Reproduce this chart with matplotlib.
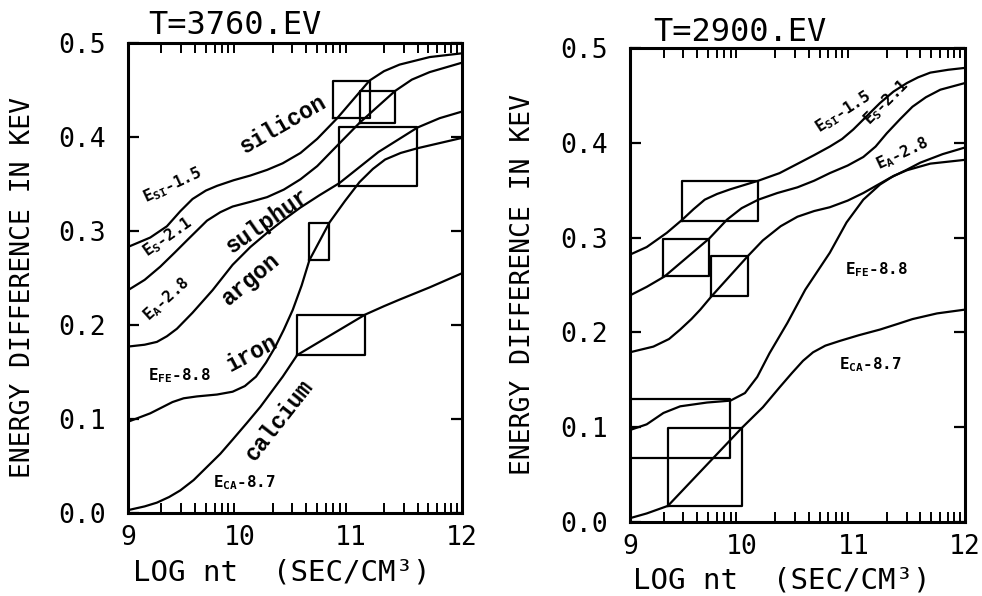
import matplotlib
matplotlib.use('Agg')
import matplotlib.pyplot as plt
import numpy as np

plt.rcParams['font.family'] = ['DejaVu Sans Mono']
plt.rcParams['mathtext.default'] = 'regular'

# ---- left panel, T=3760 eV ----
L_si_x = [9.00, 9.20, 9.35, 9.47, 9.58, 9.70, 9.80, 9.95, 10.10, 10.25, 10.39, 10.55, 10.70, 10.88, 11.17, 11.30, 11.44, 11.71, 12.0]
L_si_y = [0.283, 0.293, 0.305, 0.321, 0.334, 0.343, 0.348, 0.354, 0.359, 0.365, 0.372, 0.383, 0.398, 0.420, 0.460, 0.470, 0.477, 0.485, 0.489]
L_s_x = [9.00, 9.15, 9.29, 9.42, 9.53, 9.71, 9.83, 9.94, 10.10, 10.25, 10.40, 10.55, 10.70, 10.84, 11.08, 11.40, 11.55, 11.71, 12.0]
L_s_y = [0.237, 0.248, 0.262, 0.277, 0.290, 0.311, 0.320, 0.326, 0.331, 0.336, 0.344, 0.355, 0.369, 0.386, 0.415, 0.449, 0.461, 0.469, 0.479]
L_a_x = [9.00, 9.15, 9.26, 9.35, 9.44, 9.58, 9.76, 9.94, 10.10, 10.25, 10.40, 10.55, 10.72, 10.90, 11.25, 11.60, 11.80, 12.0]
L_a_y = [0.177, 0.179, 0.182, 0.188, 0.196, 0.213, 0.237, 0.264, 0.283, 0.298, 0.312, 0.325, 0.338, 0.351, 0.384, 0.410, 0.420, 0.427]
L_fe_x = [9.00, 9.20, 9.30, 9.40, 9.50, 9.62, 9.80, 9.94, 10.05, 10.15, 10.24, 10.32, 10.40, 10.48, 10.56, 10.63, 10.81, 10.95, 11.08, 11.20, 11.31, 11.45, 11.60, 12.0]
L_fe_y = [0.097, 0.106, 0.112, 0.118, 0.122, 0.124, 0.126, 0.129, 0.135, 0.145, 0.160, 0.176, 0.195, 0.216, 0.242, 0.269, 0.309, 0.332, 0.352, 0.366, 0.376, 0.383, 0.388, 0.399]
L_ca_x = [9.00, 9.15, 9.26, 9.37, 9.47, 9.59, 9.71, 9.83, 9.94, 10.07, 10.19, 10.29, 10.39, 10.52, 11.13, 11.30, 11.44, 11.71, 12.0]
L_ca_y = [0.003, 0.007, 0.011, 0.017, 0.024, 0.035, 0.049, 0.063, 0.078, 0.096, 0.113, 0.129, 0.145, 0.168, 0.211, 0.220, 0.227, 0.240, 0.255]
# boxes: (x0, x1, y0, y1)
L_boxes = [(10.84, 11.17, 0.420, 0.460), (11.08, 11.40, 0.415, 0.449),
           (10.90, 11.60, 0.348, 0.411), (10.63, 10.81, 0.269, 0.309),
           (10.52, 11.13, 0.168, 0.211)]

# ---- right panel, T=2900 eV ----
R_si_x = [9.00, 9.15, 9.33, 9.47, 9.57, 9.67, 9.78, 9.90, 10.15, 10.34, 10.52, 10.65, 10.79, 10.90, 11.00, 11.12, 11.24, 11.36, 11.48, 11.58, 11.69, 11.85, 12.0]
R_si_y = [0.282, 0.290, 0.305, 0.319, 0.330, 0.340, 0.346, 0.351, 0.360, 0.368, 0.379, 0.387, 0.396, 0.404, 0.414, 0.428, 0.442, 0.454, 0.463, 0.469, 0.474, 0.477, 0.479]
R_s_x = [9.00, 9.15, 9.31, 9.71, 9.87, 10.00, 10.15, 10.32, 10.50, 10.65, 10.79, 10.95, 11.09, 11.20, 11.30, 11.42, 11.53, 11.65, 11.78, 12.0]
R_s_y = [0.239, 0.248, 0.259, 0.299, 0.319, 0.331, 0.340, 0.347, 0.353, 0.360, 0.368, 0.376, 0.385, 0.396, 0.410, 0.425, 0.438, 0.448, 0.456, 0.463]
R_a_x = [9.00, 9.21, 9.35, 9.45, 9.55, 9.63, 9.73, 10.06, 10.19, 10.35, 10.50, 10.65, 10.79, 10.95, 11.09, 11.21, 11.33, 11.47, 11.60, 11.80, 12.0]
R_a_y = [0.179, 0.185, 0.193, 0.203, 0.214, 0.224, 0.238, 0.281, 0.297, 0.312, 0.322, 0.328, 0.332, 0.339, 0.347, 0.355, 0.363, 0.371, 0.379, 0.388, 0.395]
R_fe_x = [9.00, 9.15, 9.30, 9.45, 9.69, 9.90, 10.03, 10.14, 10.25, 10.41, 10.57, 10.79, 10.94, 11.09, 11.24, 11.36, 11.48, 11.69, 12.0]
R_fe_y = [0.097, 0.103, 0.115, 0.122, 0.126, 0.128, 0.136, 0.153, 0.178, 0.210, 0.245, 0.284, 0.316, 0.340, 0.356, 0.365, 0.371, 0.378, 0.382]
R_ca_x = [9.00, 9.15, 9.34, 10.00, 10.19, 10.34, 10.45, 10.55, 10.64, 10.75, 10.88, 11.05, 11.24, 11.40, 11.53, 11.75, 12.0]
R_ca_y = [0.004, 0.009, 0.017, 0.099, 0.121, 0.142, 0.157, 0.170, 0.179, 0.186, 0.191, 0.197, 0.203, 0.209, 0.214, 0.220, 0.224]
R_boxes = [(9.47, 10.15, 0.318, 0.360), (9.30, 9.71, 0.259, 0.299),
           (9.73, 10.06, 0.238, 0.281), (9.00, 9.90, 0.068, 0.130),
           (9.34, 10.00, 0.017, 0.099)]

# curve labels: (x, y, text, rotation)
L_names = [(10.39, 0.414, 'silicon', 30), (10.25, 0.311, 'sulphur', 35),
           (10.10, 0.249, 'argon', 40), (10.11, 0.170, 'iron', 28),
           (10.36, 0.099, 'calcium', 52)]
L_elabels = [(9.40, 0.349, r'E$_{SI}$-1.5', 25), (9.36, 0.293, r'E$_{S}$-2.1', 35),
             (9.35, 0.227, r'E$_{A}$-2.8', 42), (9.46, 0.146, r'E$_{FE}$-8.8', 0),
             (10.05, 0.032, r'E$_{CA}$-8.7', 0)]
R_elabels = [(10.91, 0.432, r'E$_{SI}$-1.5', 33), (11.30, 0.443, r'E$_{S}$-2.1', 45),
             (11.44, 0.389, r'E$_{A}$-2.8', 25), (11.21, 0.266, r'E$_{FE}$-8.8', 0),
             (11.15, 0.166, r'E$_{CA}$-8.7', 0)]

yticks = [0.0, 0.1, 0.2, 0.3, 0.4, 0.5]
ytick_labels = ['0.0', '0.1', '0.2', '0.3', '0.4', '0.5']
xticks = [9, 10, 11, 12]
xtick_labels = ['9', '10', '11', '12']


def draw_panel(ax, curves, boxes, elabels, names):
    for xs, ys in curves:
        ax.plot(xs, ys, color='black', lw=1.6, solid_capstyle='round', solid_joinstyle='round')
    for x0, x1, y0, y1 in boxes:
        ax.plot([x0, x1, x1, x0, x0], [y0, y0, y1, y1, y0], color='black', lw=1.6)
    for x, y, t, r in elabels:
        ax.text(x, y, t, rotation=r, ha='center', va='center', fontsize=11.5,
                fontweight='bold', family='DejaVu Sans Mono', rotation_mode='anchor')
    for x, y, t, r in names:
        ax.text(x, y, t, rotation=r, ha='center', va='center', fontsize=16.5,
                fontweight='bold', family='Liberation Mono', rotation_mode='anchor')

    ax.set_xlim(9, 12)
    ax.set_ylim(0, 0.5)
    ax.set_yticks(yticks)
    ax.set_yticklabels(ytick_labels)
    ax.set_xticks(xticks)
    ax.set_xticklabels(xtick_labels)
    minors = [d + np.log10(k) for d in (9, 10, 11) for k in range(2, 10)]
    ax.set_xticks(minors, minor=True)
    ax.tick_params(axis='y', which='major', direction='in', length=8, width=1.6,
                   left=True, right=True, labelsize=19, pad=16)
    ax.tick_params(axis='x', which='major', direction='in', length=0, width=1.6,
                   top=True, bottom=True, labelsize=19, pad=9)
    ax.tick_params(axis='x', which='minor', direction='in', length=7, width=1.4,
                   top=True, bottom=True)
    for s in ax.spines.values():
        s.set_linewidth(2.2)


fig = plt.figure(figsize=(9.82, 5.96), dpi=100)
axL = fig.add_axes([0.1303, 0.1393, 0.3401, 0.7886])
axR = fig.add_axes([0.6415, 0.1242, 0.3411, 0.7953])

draw_panel(axL, [(L_si_x, L_si_y), (L_s_x, L_s_y), (L_a_x, L_a_y), (L_fe_x, L_fe_y), (L_ca_x, L_ca_y)],
           L_boxes, L_elabels, L_names)
draw_panel(axR, [(R_si_x, R_si_y), (R_s_x, R_s_y), (R_a_x, R_a_y), (R_fe_x, R_fe_y), (R_ca_x, R_ca_y)],
           R_boxes, R_elabels, [])

fig.text(0.2393, 0.957, 'T=3760.EV', ha='center', va='center', fontsize=23)
fig.text(0.7536, 0.945, 'T=2900.EV', ha='center', va='center', fontsize=23)

fig.text(133/982, 1 - 573/596, 'LOG nt  (SEC/CM³)', ha='left', va='center', fontsize=21)
fig.text(633/982, 1 - 580/596, 'LOG nt  (SEC/CM³)', ha='left', va='center', fontsize=21)

fig.text(23/982, 0.517, 'ENERGY DIFFERENCE IN KEV', rotation=90, ha='center', va='center', fontsize=19)
fig.text(523/982, 0.522, 'ENERGY DIFFERENCE IN KEV', rotation=90, ha='center', va='center', fontsize=19)

fig.savefig('out.png', dpi=100)
